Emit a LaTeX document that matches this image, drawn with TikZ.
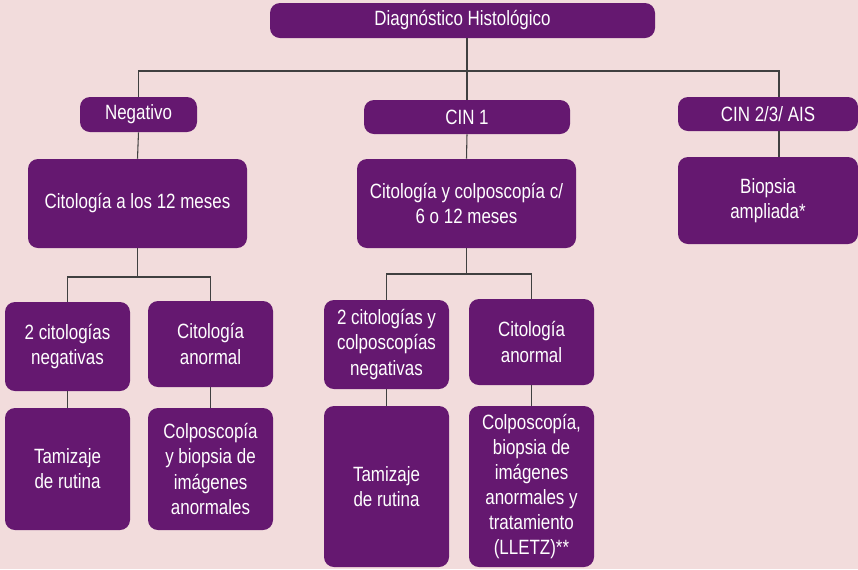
\documentclass[tikz,border=0pt]{standalone}
\usepackage{fontspec}
\setmainfont{Liberation Sans}[FakeStretch=0.82]
\usetikzlibrary{positioning}
\definecolor{fondo}{HTML}{F2DCDC}
\definecolor{morado}{HTML}{651870}
\definecolor{linea}{HTML}{404040}
\tikzset{
  caja/.style   = {shape=rectangle, rounded corners=7.5pt, fill=morado,
                   text=white, align=center, inner sep=1pt,
                   font=\fontsize{15.5pt}{18.8pt}\selectfont},
  nivel/.style  = {caja, minimum height=25.5pt},
  bloque/.style = {caja, minimum width=164.25pt, minimum height=66.75pt},
  hoja/.style   = {caja, minimum width=93.75pt},
  enlace/.style = {draw=linea, line width=0.8pt}
}

\begin{document}
\begin{tikzpicture}[x=0.75pt,y=-0.75pt]
\fill[fondo] (0,0) rectangle (858,569);
\useasboundingbox (0,0) rectangle (858,569);

\node [nivel, minimum width=288.75pt, minimum height=26.25pt] (diag) at (462.5,20.5) {Diagnóstico Histológico};
\node [nivel, minimum width=87.75pt, minimum height=26.25pt] (neg) at (138.5,114.5) {Negativo};
\node [nivel, minimum width=154.5pt] (cin1) at (467,117) {CIN 1};
\node [nivel, minimum width=135pt] (cin23) at (768,114) {CIN 2/3/ AIS};

\node [bloque] (cit12) at (137.5,203.5) {Citología a los 12 meses};
\node [bloque] (citcol) at (466.5,203.5) {Citología y colposcopía c/\\6 o 12 meses};
\node [caja, minimum width=135pt, minimum height=65.25pt] (biop) at (768,200.5) {Biopsia\\ampliada*};

\node [hoja, minimum height=66.75pt] (neg2) at (67.5,346.5) {2 citologías\\negativas};
\node [hoja, minimum height=64.5pt] (anorm1) at (210.5,344) {Citología\\anormal};
\node [hoja, minimum height=91.5pt] (tam1) at (67.5,469) {Tamizaje\\de rutina};
\node [hoja, minimum height=91.5pt] (colp1) at (210.5,469) {Colposcopía\\y biopsia de\\imágenes\\anormales};

\node [hoja, minimum height=66.75pt] (neg3) at (386.5,344.5) {2 citologías y\\colposcopías\\negativas};
\node [hoja, minimum height=64.5pt] (anorm2) at (531.5,342) {Citología\\anormal};
\node [hoja, minimum height=120.75pt] (tam2) at (386.5,486.5) {Tamizaje\\de rutina};
\node [hoja, minimum height=120.75pt] (colp2) at (531.5,486.5) {Colposcopía,\\biopsia de\\imágenes\\anormales y\\tratamiento\\(LLETZ)**};

\coordinate (barra1) at (0,71);
\coordinate (barra2) at (0,277);
\coordinate (barra3) at (0,274);
\coordinate (cin23t) at ([xshift=8.25pt]cin23.north);
\coordinate (cin23b) at ([xshift=8.25pt]cin23.south);

\draw [enlace] (cin1.north) -- (cin1.north |- diag.south);
\draw [enlace] (neg.north) |- (barra1 -| cin23t) -- (cin23t);
\draw [enlace] (neg.south) -- (cit12.north);
\draw [enlace] (cin1.south) -- (citcol.north);
\draw [enlace] (cin23b) -- (cin23b |- biop.north);

\draw [enlace] (cit12.south) -- (cit12.south |- barra2);
\draw [enlace] (neg2.north) |- (barra2 -| anorm1.north) -- (anorm1.north);
\draw [enlace] (neg2.south) -- (tam1.north);
\draw [enlace] (anorm1.south) -- (colp1.north);

\draw [enlace] (citcol.south) -- (citcol.south |- barra3);
\draw [enlace] (neg3.north) |- (barra3 -| anorm2.north) -- (anorm2.north);
\draw [enlace] (neg3.south) -- (tam2.north);
\draw [enlace] (anorm2.south) -- (colp2.north);
\end{tikzpicture}
\end{document}
